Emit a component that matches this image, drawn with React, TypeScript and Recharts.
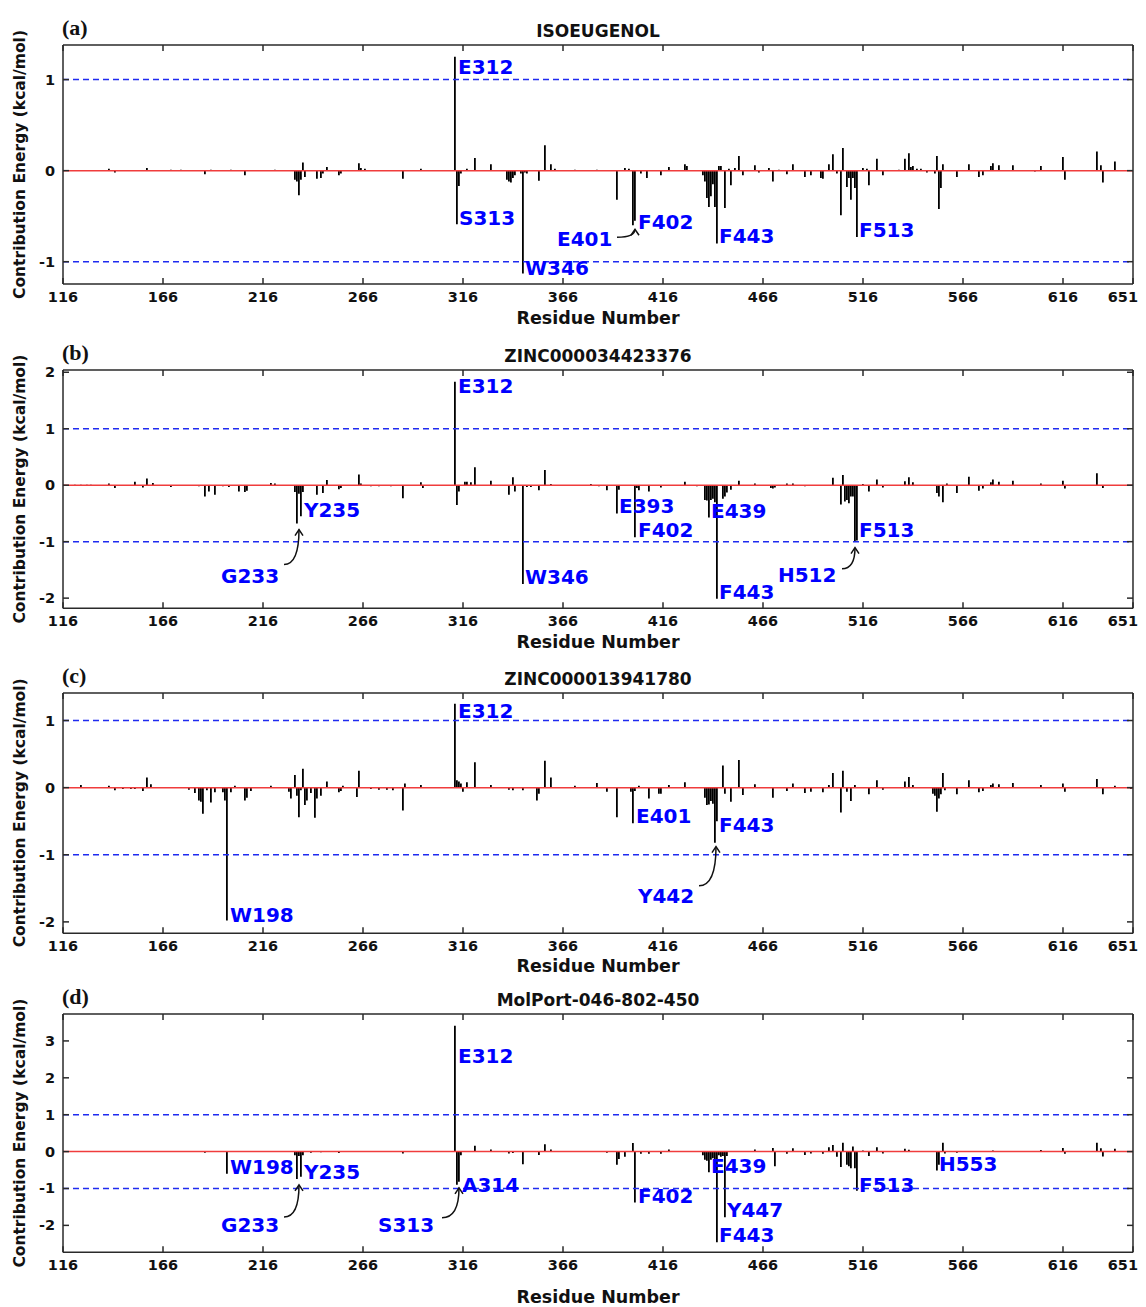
import React from 'react';
import { ComposedChart, Bar, XAxis, YAxis, ReferenceLine, ReferenceDot } from 'recharts';

// residue number -> contribution energy (kcal/mol)
const residueTicks = [116, 166, 216, 266, 316, 366, 416, 466, 516, 566, 616, 651];

const isoeugenol: [number, number][] = [
  [139, 0.02], [142, -0.02], [158, 0.03], [170, 0.01], [175, 0.01], [187, -0.04], [190, 0.01], [200, 0.01], [207, -0.05], [222, 0.01],
  [232, -0.1], [233, -0.12], [234, -0.27], [235, -0.1], [236, 0.09], [237, -0.07], [243, -0.09], [245, -0.08], [246, -0.03], [248, 0.04],
  [254, -0.05], [255, -0.03], [264, 0.08], [265, 0.03], [267, 0.02], [286, -0.09], [295, 0.02],
  [312, 1.25], [313, -0.59], [314, -0.17], [315, -0.03], [318, 0.02], [322, 0.14], [330, 0.07],
  [338, -0.1], [339, -0.12], [340, -0.13], [341, -0.08], [342, -0.05], [345, -0.03], [346, -1.13], [347, -0.02], [348, -0.03],
  [354, -0.11], [357, 0.28], [360, 0.07], [362, 0.02], [372, 0.01], [383, 0.01], [393, -0.32], [397, 0.03], [399, 0.02],
  [401, -0.6], [402, -0.55], [405, -0.03], [408, -0.08], [415, -0.05], [419, 0.04], [427, 0.07], [428, 0.05],
  [436, -0.05], [437, -0.12], [438, -0.3], [439, -0.4], [440, -0.28], [441, -0.15], [442, -0.4], [443, -0.8], [444, 0.05], [445, 0.05],
  [447, -0.41], [449, 0.02], [450, -0.16], [452, 0.03], [454, 0.16], [456, -0.05], [462, 0.06], [464, -0.02], [469, 0.03], [471, -0.12],
  [474, 0.01], [478, -0.04], [481, 0.07], [487, -0.07], [490, -0.05], [495, -0.08], [496, -0.09], [499, 0.07],
  [501, 0.18], [503, -0.03], [505, -0.49], [506, 0.25], [508, -0.18], [509, -0.08], [510, -0.32], [511, -0.08], [512, -0.19], [513, -0.73],
  [516, 0.03], [518, 0.02], [519, -0.16], [523, 0.13], [526, -0.05], [534, 0.01], [537, 0.13], [539, 0.19], [540, 0.04], [541, 0.05],
  [543, 0.02], [545, 0.02], [548, -0.02], [552, -0.03], [553, 0.16], [554, -0.42], [555, -0.19], [556, 0.07],
  [563, -0.07], [569, 0.07], [574, -0.07], [576, -0.05], [580, 0.05], [581, 0.08], [584, 0.06], [591, 0.06],
  [602, -0.01], [605, 0.05], [616, 0.15], [617, -0.1], [633, 0.21], [635, 0.06], [636, -0.13], [642, 0.1],
];

const zinc34423376: [number, number][] = [
  [122, 0.01], [125, 0.01], [128, 0.01], [130, 0.01], [139, 0.03], [142, -0.05], [152, 0.06], [156, -0.04], [158, 0.12], [161, 0.04],
  [170, -0.03], [184, -0.02], [187, -0.2], [189, -0.11], [192, -0.17], [196, -0.02], [199, -0.03], [204, -0.11], [207, -0.12], [208, -0.1],
  [220, 0.04], [222, 0.03], [232, -0.12], [233, -0.68], [234, -0.15], [235, -0.55], [236, -0.12], [243, -0.17], [246, -0.14], [248, 0.09],
  [254, -0.07], [255, -0.05], [264, 0.19], [265, 0.03], [270, -0.02], [274, -0.02], [280, -0.02], [286, -0.23], [295, 0.05], [296, -0.05],
  [312, 1.83], [313, -0.35], [314, -0.11], [317, 0.06], [318, 0.06], [320, 0.05], [322, 0.32], [330, 0.08],
  [339, -0.17], [341, 0.14], [342, -0.11], [346, -1.75], [348, -0.03], [350, -0.03], [354, -0.09], [357, 0.27], [360, 0.02],
  [380, 0.02], [384, -0.02], [388, -0.09], [393, -0.5], [394, -0.08], [402, -0.92], [403, -0.05], [404, -0.09], [409, -0.11], [415, -0.04],
  [427, 0.06], [433, -0.02], [437, -0.26], [438, -0.27], [439, -0.57], [440, -0.26], [441, -0.24], [442, -0.3], [443, -2.01],
  [446, -0.24], [447, -0.2], [448, -0.13], [450, -0.08], [454, 0.08], [462, 0.03], [470, -0.05], [471, -0.06], [472, -0.04],
  [478, 0.03], [481, 0.03], [487, -0.02], [501, 0.13], [505, -0.34], [506, 0.18], [507, -0.29], [508, -0.26], [509, -0.32], [510, -0.2],
  [511, -0.2], [512, -1.0], [513, -0.98], [516, 0.02], [519, -0.11], [523, 0.1], [526, -0.04], [537, 0.07], [539, 0.14], [541, 0.05],
  [553, -0.14], [554, -0.2], [556, -0.3], [558, 0.03], [563, -0.14], [569, 0.15], [574, -0.1], [576, -0.06], [580, 0.05], [581, 0.1],
  [584, 0.06], [591, 0.08], [605, 0.03], [616, 0.08], [617, -0.06], [633, 0.21], [636, -0.05],
];

const zinc13941780: [number, number][] = [
  [125, 0.04], [139, 0.03], [142, -0.04], [146, -0.02], [150, -0.02], [152, -0.02], [156, -0.05], [158, 0.15], [160, 0.05],
  [179, -0.03], [182, -0.08], [184, -0.19], [185, -0.21], [186, -0.39], [188, -0.04], [190, -0.22], [192, -0.07],
  [196, -0.07], [197, -0.19], [198, -1.98], [200, -0.07], [202, 0.03], [207, -0.19], [208, -0.15], [210, -0.05], [220, 0.03],
  [229, -0.06], [230, -0.16], [232, 0.19], [233, -0.12], [234, -0.44], [235, -0.04], [236, 0.28], [237, -0.26], [238, -0.19], [240, -0.08],
  [242, -0.45], [243, -0.16], [245, -0.12], [248, 0.09], [254, -0.07], [255, -0.05], [256, 0.03], [263, -0.14], [264, 0.25],
  [270, -0.02], [274, -0.03], [278, -0.03], [281, -0.04], [286, -0.34], [287, 0.06], [295, 0.04],
  [312, 1.25], [313, 0.11], [314, 0.09], [315, 0.06], [316, -0.06], [318, 0.08], [322, 0.38], [330, 0.04],
  [339, -0.03], [341, -0.04], [346, -0.04], [353, -0.19], [354, -0.09], [357, 0.4], [360, 0.15], [372, 0.03], [383, 0.07],
  [388, -0.06], [393, -0.44], [400, -0.06], [401, -0.53], [402, -0.05], [404, 0.03], [409, -0.16], [414, -0.09], [415, -0.09],
  [419, 0.04], [427, 0.08], [437, -0.15], [438, -0.26], [439, -0.25], [440, -0.2], [441, -0.24], [442, -0.82], [443, -0.5],
  [446, 0.33], [447, -0.09], [450, -0.21], [454, 0.41], [456, -0.11], [462, 0.05], [471, -0.15], [478, -0.05], [481, 0.06],
  [487, -0.08], [490, -0.06], [496, -0.07], [499, 0.04], [501, 0.22], [505, -0.37], [506, 0.25], [508, -0.06], [510, -0.2], [512, 0.04],
  [519, -0.1], [523, 0.11], [526, -0.03], [537, 0.09], [539, 0.16], [541, 0.04], [551, -0.09], [552, -0.12], [553, -0.36], [554, -0.16],
  [555, -0.1], [556, 0.22], [557, -0.04], [563, -0.1], [569, 0.11], [574, -0.07], [576, -0.05], [580, 0.04], [581, 0.06], [584, 0.05],
  [591, 0.07], [605, 0.04], [616, 0.06], [617, -0.06], [633, 0.13], [636, -0.1], [642, 0.03], [650, -0.02],
];

const molport046802450: [number, number][] = [
  [187, -0.03], [198, -0.6], [232, -0.1], [233, -0.74], [234, -0.12], [235, -0.68], [236, -0.1], [240, -0.03], [245, -0.02], [254, -0.04],
  [286, -0.05], [312, 3.41], [313, -0.9], [314, -0.82], [315, -0.1], [322, 0.16], [330, 0.06], [339, -0.05], [341, -0.04], [346, -0.34],
  [354, -0.09], [357, 0.2], [360, 0.06], [388, -0.03], [393, -0.36], [394, -0.2], [397, -0.14], [401, 0.23], [402, -1.38], [405, -0.06],
  [409, -0.06], [415, -0.06], [419, 0.06], [436, -0.1], [437, -0.22], [438, -0.25], [439, -0.56], [440, -0.22], [441, -0.18], [442, -0.25],
  [443, -2.46], [444, -0.1], [445, -0.14], [446, -0.12], [447, -1.78], [448, -0.12], [462, 0.06], [471, 0.1], [472, -0.4], [478, -0.06],
  [481, 0.09], [487, -0.09], [490, -0.05], [496, -0.06], [499, 0.12], [501, 0.18], [503, -0.14], [505, -0.42], [506, 0.24], [508, -0.36],
  [509, -0.4], [510, -0.45], [511, 0.14], [512, -0.45], [513, -1.06], [516, 0.03], [519, -0.12], [523, 0.12], [526, -0.05], [537, 0.08],
  [539, 0.05], [553, -0.51], [554, -0.36], [556, 0.24], [557, -0.05], [563, -0.03], [581, 0.03], [605, 0.04], [616, 0.1], [617, -0.06],
  [633, 0.24], [635, 0.09], [636, -0.13], [642, 0.08],
];

type Note = { text: string; res: number; dx: number; dy: number; arrow?: [number, number, number, number] };

const isoNotes: Note[] = [
  { text: 'E312', res: 312, dx: 3, dy: 17 },
  { text: 'S313', res: 313, dx: 2, dy: 1 },
  { text: 'W346', res: 346, dx: 2, dy: 1 },
  { text: 'E401', res: 401, dx: -76, dy: 21, arrow: [-16, 12, 2, 4] },
  { text: 'F402', res: 402, dx: 3, dy: 8 },
  { text: 'F443', res: 443, dx: 2, dy: 0 },
  { text: 'F513', res: 513, dx: 2, dy: 0 },
];
const zinc344Notes: Note[] = [
  { text: 'E312', res: 312, dx: 3, dy: 11 },
  { text: 'Y235', res: 235, dx: 3, dy: 1 },
  { text: 'G233', res: 233, dx: -76, dy: 59, arrow: [-13, 41, 2, 6] },
  { text: 'W346', res: 346, dx: 2, dy: 0 },
  { text: 'E393', res: 393, dx: 2, dy: 0 },
  { text: 'F402', res: 402, dx: 3, dy: 0 },
  { text: 'E439', res: 439, dx: 2, dy: 1 },
  { text: 'F443', res: 443, dx: 2, dy: 0 },
  { text: 'H512', res: 512, dx: -77, dy: 40, arrow: [-13, 27, 0, 6] },
  { text: 'F513', res: 513, dx: 2, dy: -4 },
];
const zinc139Notes: Note[] = [
  { text: 'E312', res: 312, dx: 3, dy: 14 },
  { text: 'W198', res: 198, dx: 3, dy: 1 },
  { text: 'E401', res: 401, dx: 3, dy: 0 },
  { text: 'Y442', res: 442, dx: -77, dy: 60, arrow: [-16, 43, 1, 4] },
  { text: 'F443', res: 443, dx: 2, dy: 11 },
];
const molportNotes: Note[] = [
  { text: 'E312', res: 312, dx: 3, dy: 37 },
  { text: 'W198', res: 198, dx: 3, dy: 0 },
  { text: 'Y235', res: 235, dx: 3, dy: 2 },
  { text: 'G233', res: 233, dx: -76, dy: 53, arrow: [-13, 38, 2, 6] },
  { text: 'S313', res: 313, dx: -79, dy: 47, arrow: [-15, 33, 2, 3] },
  { text: 'A314', res: 314, dx: 3, dy: 10 },
  { text: 'F402', res: 402, dx: 3, dy: 1 },
  { text: 'E439', res: 439, dx: 2, dy: 1 },
  { text: 'Y447', res: 447, dx: 2, dy: 0 },
  { text: 'F443', res: 443, dx: 2, dy: 0 },
  { text: 'F513', res: 513, dx: 2, dy: 1 },
  { text: 'H553', res: 553, dx: 2, dy: 1 },
];

const SANS = '"DejaVu Sans", sans-serif';
const FRAME = '#2a2a2a';
const BLUE = '#1f2bf0';
const RED = '#f03c3c';
const TOP_H = 37;
const BOTTOM_H = 50;
const WIDTH = 1130;
const HEIGHT = 1299;

const panels = [
  { tag: '(a)', title: 'ISOEUGENOL', bars: isoeugenol, notes: isoNotes, plotTop: 45, plotH: 239, yDomain: [-1.245, 1.38], yTicks: [-1, 0, 1], xLabelGap: 40 },
  { tag: '(b)', title: 'ZINC000034423376', bars: zinc34423376, notes: zinc344Notes, plotTop: 370, plotH: 238.3, yDomain: [-2.18, 2.04], yTicks: [-2, -1, 0, 1, 2], xLabelGap: 40 },
  { tag: '(c)', title: 'ZINC000013941780', bars: zinc13941780, notes: zinc139Notes, plotTop: 692.7, plotH: 240.3, yDomain: [-2.17, 1.41], yTicks: [-2, -1, 0, 1], xLabelGap: 39 },
  { tag: '(d)', title: 'MolPort-046-802-450', bars: molport046802450, notes: molportNotes, plotTop: 1014, plotH: 238.3, yDomain: [-2.73, 3.73], yTicks: [-2, -1, 0, 1, 2, 3], xLabelGap: 51 },
];

function BottomTick(props: any) {
  const { x, y, payload } = props;
  const last = payload.value === residueTicks[residueTicks.length - 1];
  return (
    <g>
      <line x1={x} x2={x} y1={y} y2={y - 6} stroke={FRAME} strokeWidth={1.5} />
      <text x={last ? x + 5 : x} y={y + 18} textAnchor={last ? 'end' : 'middle'} fontSize={14.5} fontWeight="bold" fontFamily={SANS} fill="#111">
        {payload.value}
      </text>
    </g>
  );
}

function TopTick(props: any) {
  const { x, y } = props;
  return <line x1={x} x2={x} y1={y} y2={y + 6} stroke={FRAME} strokeWidth={1.5} />;
}

function LeftTick(props: any) {
  const { x, y, payload } = props;
  return (
    <g>
      <line x1={x} x2={x + 6} y1={y} y2={y} stroke={FRAME} strokeWidth={1.5} />
      <text x={x - 8} y={y + 5} textAnchor="end" fontSize={14.5} fontWeight="bold" fontFamily={SANS} fill="#111">
        {payload.value}
      </text>
    </g>
  );
}

function RightTick(props: any) {
  const { x, y } = props;
  return <line x1={x} x2={x - 6} y1={y} y2={y} stroke={FRAME} strokeWidth={1.5} />;
}

function NoteMark({ cx, cy, n }: { cx: number; cy: number; n: Note }) {
  let arrow = null;
  if (n.arrow) {
    const [sx, sy, ex, ey] = n.arrow;
    const x0 = cx + sx, y0 = cy + sy, x1 = cx + ex, y1 = cy + ey;
    arrow = (
      <g stroke="#111" strokeWidth={1.5} fill="none">
        <path d={`M${x0},${y0} Q${x1},${y0} ${x1},${y1}`} />
        <path d={`M${x1 - 4},${y1 + 6} L${x1},${y1} L${x1 + 4},${y1 + 6}`} />
      </g>
    );
  }
  return (
    <g>
      {arrow}
      <text x={cx + n.dx} y={cy + n.dy} fill="#0000ff" fontSize={20} fontWeight="bold" fontFamily={SANS}>
        {n.text}
      </text>
    </g>
  );
}

function Panel({ p }: { p: (typeof panels)[number] }) {
  const rows = p.bars.map(([res, e]) => ({ res, e }));
  const valueAt = (r: number) => (p.bars.find((b) => b[0] === r) || [r, 0])[1];
  const axisLine = { stroke: FRAME, strokeWidth: 1.5 };
  return (
    <div style={{ position: 'absolute', left: 0, top: p.plotTop - 8 - TOP_H }}>
      <ComposedChart width={WIDTH} height={TOP_H + p.plotH + BOTTOM_H} data={rows} margin={{ top: 0, right: 0, bottom: 0, left: 0 }}>
        <XAxis xAxisId="b" dataKey="res" type="number" domain={[116, 651]} ticks={residueTicks} allowDataOverflow interval={0}
          height={BOTTOM_H} tickSize={0} tickMargin={0} tickLine={false} tick={<BottomTick />} axisLine={axisLine} />
        <XAxis xAxisId="t" orientation="top" dataKey="res" type="number" domain={[116, 651]} ticks={residueTicks} allowDataOverflow interval={0}
          height={TOP_H} tickSize={0} tickMargin={0} tickLine={false} tick={<TopTick />} axisLine={axisLine} />
        <YAxis yAxisId="l" type="number" domain={p.yDomain} ticks={p.yTicks} allowDataOverflow interval={0}
          width={55} tickSize={0} tickMargin={0} tickLine={false} tick={<LeftTick />} axisLine={axisLine} />
        <YAxis yAxisId="r" orientation="right" type="number" domain={p.yDomain} ticks={p.yTicks} allowDataOverflow interval={0}
          width={5} tickSize={0} tickMargin={0} tickLine={false} tick={<RightTick />} axisLine={axisLine} />
        <ReferenceLine xAxisId="b" yAxisId="l" y={1} stroke={BLUE} strokeWidth={1.5} strokeDasharray="6 4" />
        <ReferenceLine xAxisId="b" yAxisId="l" y={-1} stroke={BLUE} strokeWidth={1.5} strokeDasharray="6 4" />
        <Bar xAxisId="b" yAxisId="l" dataKey="e" fill="#000" barSize={2} isAnimationActive={false} />
        <ReferenceLine xAxisId="b" yAxisId="l" y={0} stroke={RED} strokeWidth={1.5} />
        {p.notes.map((n) => (
          <ReferenceDot key={n.text + n.res} xAxisId="b" yAxisId="l" x={n.res} y={valueAt(n.res)} r={0} ifOverflow="visible"
            shape={(sp: any) => <NoteMark cx={sp.cx} cy={sp.cy} n={n} />} />
        ))}
      </ComposedChart>
    </div>
  );
}

export default function App() {
  return (
    <div style={{ position: 'relative', width: WIDTH, height: HEIGHT, fontFamily: SANS, background: '#fff' }}>
      {panels.map((p) => (
        <Panel key={p.tag} p={p} />
      ))}
      <svg width={WIDTH} height={HEIGHT} style={{ position: 'absolute', left: 0, top: 0, pointerEvents: 'none' }}>
        {panels.map((p) => {
          const top = p.plotTop - 8;
          const bottom = top + p.plotH;
          return (
            <g key={p.tag}>
              <text x={54} y={top - 10} fontSize={22} fontWeight="bold" fontFamily='"Liberation Serif", serif' fill="#111">{p.tag}</text>
              <text x={590} y={top - 8} textAnchor="middle" fontSize={17} fontWeight="bold" fontFamily={SANS} fill="#111">{p.title}</text>
              <text x={590} y={bottom + p.xLabelGap} textAnchor="middle" fontSize={17.5} fontWeight="bold" fontFamily={SANS} fill="#111">Residue Number</text>
              <text transform={`translate(17, ${top + p.plotH / 2}) rotate(-90)`} textAnchor="middle" fontSize={15.5} fontWeight="bold" fontFamily={SANS} fill="#111">
                Contribution Energy (kcal/mol)
              </text>
            </g>
          );
        })}
      </svg>
    </div>
  );
}
